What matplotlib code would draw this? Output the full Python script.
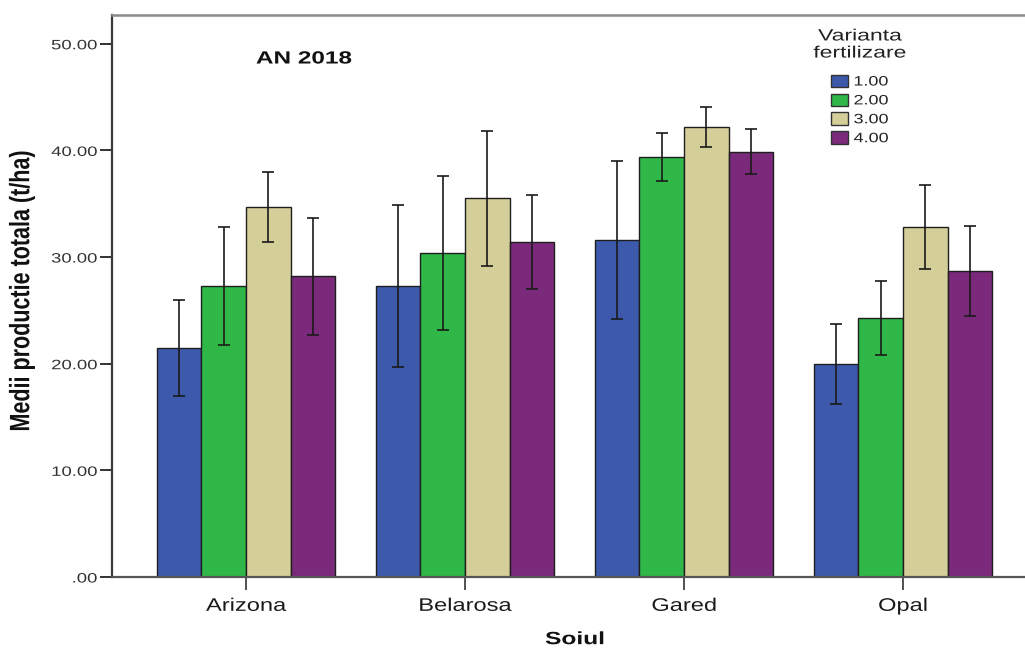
import matplotlib
matplotlib.use("Agg")
import matplotlib.pyplot as plt
import numpy as np
from matplotlib.patheffects import AbstractPathEffect
from matplotlib.transforms import Affine2D
from matplotlib.patches import Patch

plt.rcParams['font.family'] = ['Liberation Sans', 'DejaVu Sans']

# Soiuri (categorii) si variante de fertilizare
soiuri = ["Arizona", "Belarosa", "Gared", "Opal"]
variante = ["1.00", "2.00", "3.00", "4.00"]

# Medii productie totala (t/ha) pe variante
v1 = [21.5, 27.3, 31.6, 20.0]
v2 = [27.3, 30.4, 39.4, 24.3]
v3 = [34.7, 35.5, 42.2, 32.8]
v4 = [28.2, 31.4, 39.9, 28.7]

# Semi-amplitudinea barelor de eroare
e1 = [4.5, 7.6, 7.4, 3.75]
e2 = [5.5, 7.2, 2.25, 3.45]
e3 = [3.3, 6.3, 1.9, 3.95]
e4 = [5.5, 4.4, 2.1, 4.25]

yticks = [0, 10, 20, 30, 40, 50]
ytick_labels = [".00", "10.00", "20.00", "30.00", "40.00", "50.00"]

colors = ["#3D59AB", "#2FB848", "#D4CE98", "#7B2A7B"]


class WideText(AbstractPathEffect):
    """Draws text widened horizontally around an anchor point."""

    def __init__(self, sx=1.38, anchor="center"):
        super().__init__((0.0, 0.0))
        self._sx = sx
        self._anchor = anchor

    def draw_path(self, renderer, gc, tpath, affine, rgbFace=None):
        ext = tpath.get_extents()
        if self._anchor == "left":
            px = ext.x0
        elif self._anchor == "right":
            px = ext.x1
        else:
            px = 0.5 * (ext.x0 + ext.x1)
        py = 0.5 * (ext.y0 + ext.y1)
        cx, cy = affine.transform((px, py))
        t = affine + Affine2D().translate(-cx, -cy).scale(self._sx, 1.0).translate(cx, cy)
        renderer.draw_path(gc, tpath, t, rgbFace)


W, H = 1025, 648
fig = plt.figure(figsize=(W / 100, H / 100), dpi=100)
ax = fig.add_axes([112 / W, 71 / H, 913 / W, 562 / H])

series = [(v1, e1), (v2, e2), (v3, e3), (v4, e4)]
x = np.arange(len(soiuri))
bw = 0.204
for i, (vals, errs) in enumerate(series):
    pos = x + (i - 1.5) * bw
    ax.bar(pos, vals, width=bw, color=colors[i], edgecolor="#1e1e1e",
           linewidth=1.0, zorder=2)
    ax.errorbar(pos, vals, yerr=errs, fmt="none", ecolor="#1a1a1a",
                elinewidth=1.2, capsize=4.3, capthick=1.2, zorder=3)

ax.set_xlim(-0.612, 3.557)
ax.set_ylim(0, 52.7)

ax.set_xticks(x, soiuri)
ax.set_yticks(yticks, ytick_labels)

ax.tick_params(axis="y", direction="out", length=8.6, width=1.4, pad=2.2,
               labelsize=9.8, color="#333333", labelcolor="#333333")
ax.tick_params(axis="x", direction="out", length=9.5, width=1.2, pad=5.5,
               labelsize=13.1, color="#333333", labelcolor="#1a1a1a")

ax.spines["right"].set_visible(False)
ax.spines["left"].set_color("#3a3a3a")
ax.spines["left"].set_linewidth(1.6)
ax.spines["top"].set_color("#8a8a8a")
ax.spines["top"].set_linewidth(1.8)
ax.spines["bottom"].set_color("#555555")
ax.spines["bottom"].set_linewidth(1.6)

for lbl in ax.get_yticklabels():
    lbl.set_path_effects([WideText(1.36, "right")])
for lbl in ax.get_xticklabels():
    lbl.set_path_effects([WideText(1.3, "center")])

ax.set_ylabel("Medii productie totala (t/ha)", fontsize=15.5, fontweight="bold",
              color="#111111")
ax.yaxis.label.set_va("center")
ax.yaxis.set_label_coords((22 - 112) / 913, 0.509)
ax.yaxis.label.set_path_effects([WideText(1.3, "center")])

ax.set_xlabel("Soiul", fontsize=12.8, fontweight="bold", color="#111111")
ax.xaxis.label.set_va("center")
ax.xaxis.set_label_coords(0.507, -0.1115)
ax.xaxis.label.set_path_effects([WideText(1.38, "center")])

t = ax.text(0.2103, 0.9217, "AN 2018", transform=ax.transAxes, ha="center",
            va="center", fontsize=12.7, fontweight="bold", color="#111111")
t.set_path_effects([WideText(1.38, "center")])

# Legend title
lt = fig.text(860 / W, 1 - 44.5 / H, "Varianta\nfertilizare", ha="center",
              va="center", multialignment="center", fontsize=11.8,
              linespacing=1.17, color="#222222")
lt.set_path_effects([WideText(1.4, "center")])

handles = [Patch(facecolor=c, edgecolor="#333333", linewidth=1.0) for c in colors]
leg = fig.legend(handles, variante, loc="upper left",
                 bbox_to_anchor=(831 / W, 1 - 74.5 / H), frameon=False,
                 fontsize=9.8, borderpad=0, borderaxespad=0,
                 handlelength=1.25, handleheight=1.03, handletextpad=0.42,
                 labelspacing=0.36)
for txt in leg.get_texts():
    txt.set_color("#222222")
    txt.set_path_effects([WideText(1.32, "left")])

fig.savefig("out.png", dpi=100)
